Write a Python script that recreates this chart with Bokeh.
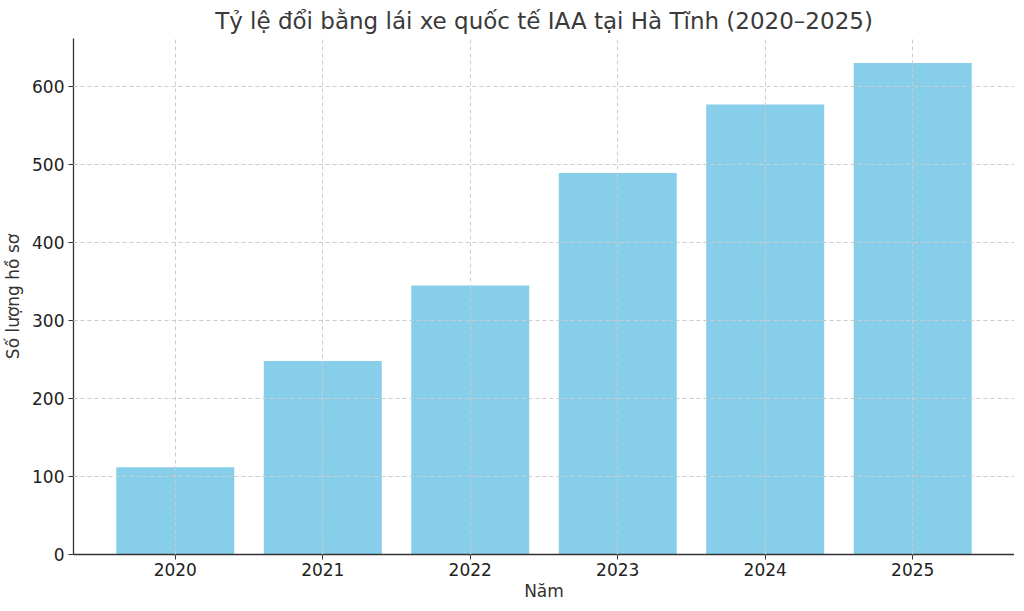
from bokeh.plotting import figure
from bokeh.models import FixedTicker, Range1d
from bokeh.embed import file_html
from bokeh.resources import INLINE

years = [2020, 2021, 2022, 2023, 2024, 2025]
counts = [112, 248, 345, 489, 577, 630]
y_ticks = [0, 100, 200, 300, 400, 500, 600]

FONT = "DejaVu Sans"

p = figure(width=1014, height=603, output_backend="svg", toolbar_location=None,
           x_range=Range1d(2019.31, 2025.69), y_range=Range1d(0, 661.5),
           min_border_left=60, min_border_right=0, min_border_top=10, min_border_bottom=48)

p.vbar(x=years, top=counts, width=0.8, fill_color="#87CEEB", line_color="#87CEEB", line_width=0)

p.title.text = "Tỷ lệ đổi bằng lái xe quốc tế IAA tại Hà Tĩnh (2020–2025)"
p.title.align = "center"
p.title.text_font = FONT
p.title.text_font_size = "23px"
p.title.text_font_style = "normal"
p.title.text_color = "#3a3a3a"
p.title.offset = 0

p.xaxis.ticker = FixedTicker(ticks=years)
p.yaxis.ticker = FixedTicker(ticks=y_ticks)
p.xaxis.axis_label = "Năm"
p.yaxis.axis_label = "Số lượng hồ sơ"
for ax in (p.xaxis, p.yaxis):
    ax.axis_label_text_font = FONT
    ax.axis_label_text_font_size = "17px"
    ax.axis_label_text_font_style = "normal"
    ax.axis_label_text_color = "#333333"
    ax.major_label_text_font = FONT
    ax.major_label_text_font_size = "17px"
    ax.major_label_text_color = "#222222"
    ax.axis_line_color = "#333333"
    ax.axis_line_width = 1.3
    ax.major_tick_line_color = "#333333"
    ax.major_tick_out = 5
    ax.major_tick_in = 0
    ax.minor_tick_line_color = None
p.xaxis.major_label_standoff = 3
p.xaxis.axis_label_standoff = 2
p.yaxis.major_label_standoff = 4
p.yaxis.axis_label_standoff = 6

p.grid.grid_line_color = "#cccccc"
p.grid.grid_line_dash = "4 3"
p.grid.grid_line_width = 1
p.grid.level = "overlay"
p.outline_line_color = None
p.background_fill_color = "white"

open("out.html", "w").write(file_html(p, INLINE))
